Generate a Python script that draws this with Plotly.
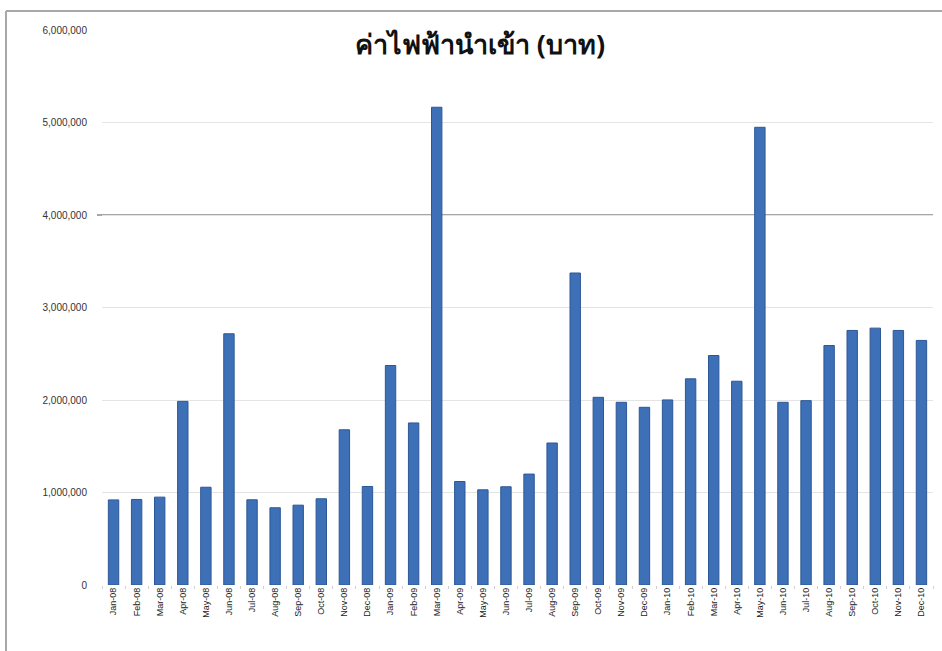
import plotly.graph_objects as go

# Monthly imported electricity cost, Jan 2008 – Dec 2010 (baht)
months = [
    "Jan-08", "Feb-08", "Mar-08", "Apr-08", "May-08", "Jun-08",
    "Jul-08", "Aug-08", "Sep-08", "Oct-08", "Nov-08", "Dec-08",
    "Jan-09", "Feb-09", "Mar-09", "Apr-09", "May-09", "Jun-09",
    "Jul-09", "Aug-09", "Sep-09", "Oct-09", "Nov-09", "Dec-09",
    "Jan-10", "Feb-10", "Mar-10", "Apr-10", "May-10", "Jun-10",
    "Jul-10", "Aug-10", "Sep-10", "Oct-10", "Nov-10", "Dec-10",
]
cost_2008 = [920000, 925000, 950000, 1985000, 1057000, 2716000,
             921000, 835000, 863000, 932000, 1678000, 1065000]
cost_2009 = [2373000, 1752000, 5165000, 1119000, 1029000, 1062000,
             1199000, 1535000, 3373000, 2029000, 1975000, 1921000]
cost_2010 = [2001000, 2229000, 2481000, 2203000, 4948000, 1975000,
             1993000, 2589000, 2752000, 2777000, 2752000, 2644000]
costs = cost_2008 + cost_2009 + cost_2010

y_ticks = [0, 1000000, 2000000, 3000000, 4000000, 5000000, 6000000]

title_text = "ค่าไฟฟ้านำเข้า (บาท)"

fig = go.Figure(
    go.Bar(
        x=months,
        y=costs,
        marker=dict(color="#3e70b8", line=dict(color="#2c5796", width=1)),
        width=0.45,
    )
)

W, H = 942, 651
L, R, T, B = 102, 9, 30, 66
pw, ph = W - L - R, H - T - B

def px_x(x):
    return (x - L) / pw

def px_y(y):
    return 1 - (y - T) / ph

shapes = [
    # emphasised gridline at 4,000,000
    dict(type="line", xref="paper", yref="y", x0=px_x(97), x1=1.0,
         y0=y_ticks[4], y1=y_ticks[4], line=dict(color="#8a8a8a", width=1.6),
         layer="below"),
    # frame lines along the left and top edges
    dict(type="line", xref="paper", yref="paper", x0=px_x(6), x1=px_x(6),
         y0=px_y(11), y1=px_y(651), line=dict(color="#a8a8a8", width=2)),
    dict(type="line", xref="paper", yref="paper", x0=px_x(6), x1=px_x(942),
         y0=px_y(11), y1=px_y(11), line=dict(color="#a8a8a8", width=2)),
]

fig.update_layout(
    width=W,
    height=H,
    margin=dict(l=L, r=R, t=T, b=B),
    paper_bgcolor="white",
    plot_bgcolor="white",
    showlegend=False,
    bargap=0.55,
    title=dict(
        text=f"<b>{title_text}</b>",
        x=480 / W,
        xref="container",
        xanchor="center",
        y=1 - 45 / H,
        yref="container",
        yanchor="middle",
        font=dict(family="Noto Sans, DejaVu Sans, sans-serif", size=27, color="#111111"),
    ),
    xaxis=dict(
        type="category",
        tickangle=-90,
        tickfont=dict(family="Liberation Sans, Arial, sans-serif", size=9, color="#222222"),
        showgrid=False,
        showline=False,
        ticks="outside",
        tickson="boundaries",
        ticklen=3,
        tickcolor="#d0d0d0",
        range=[-0.5, len(months) - 0.5],
    ),
    yaxis=dict(
        range=[0, 6000000],
        tickvals=y_ticks,
        tickformat=",",
        tickfont=dict(family="Liberation Sans, Arial, sans-serif", size=10, color="#333333"),
        showgrid=True,
        gridcolor="#e4e4e4",
        gridwidth=1,
        zeroline=False,
        showline=False,
        ticklabelstandoff=14,
    ),
    shapes=shapes,
)

fig.write_html("out.html")
